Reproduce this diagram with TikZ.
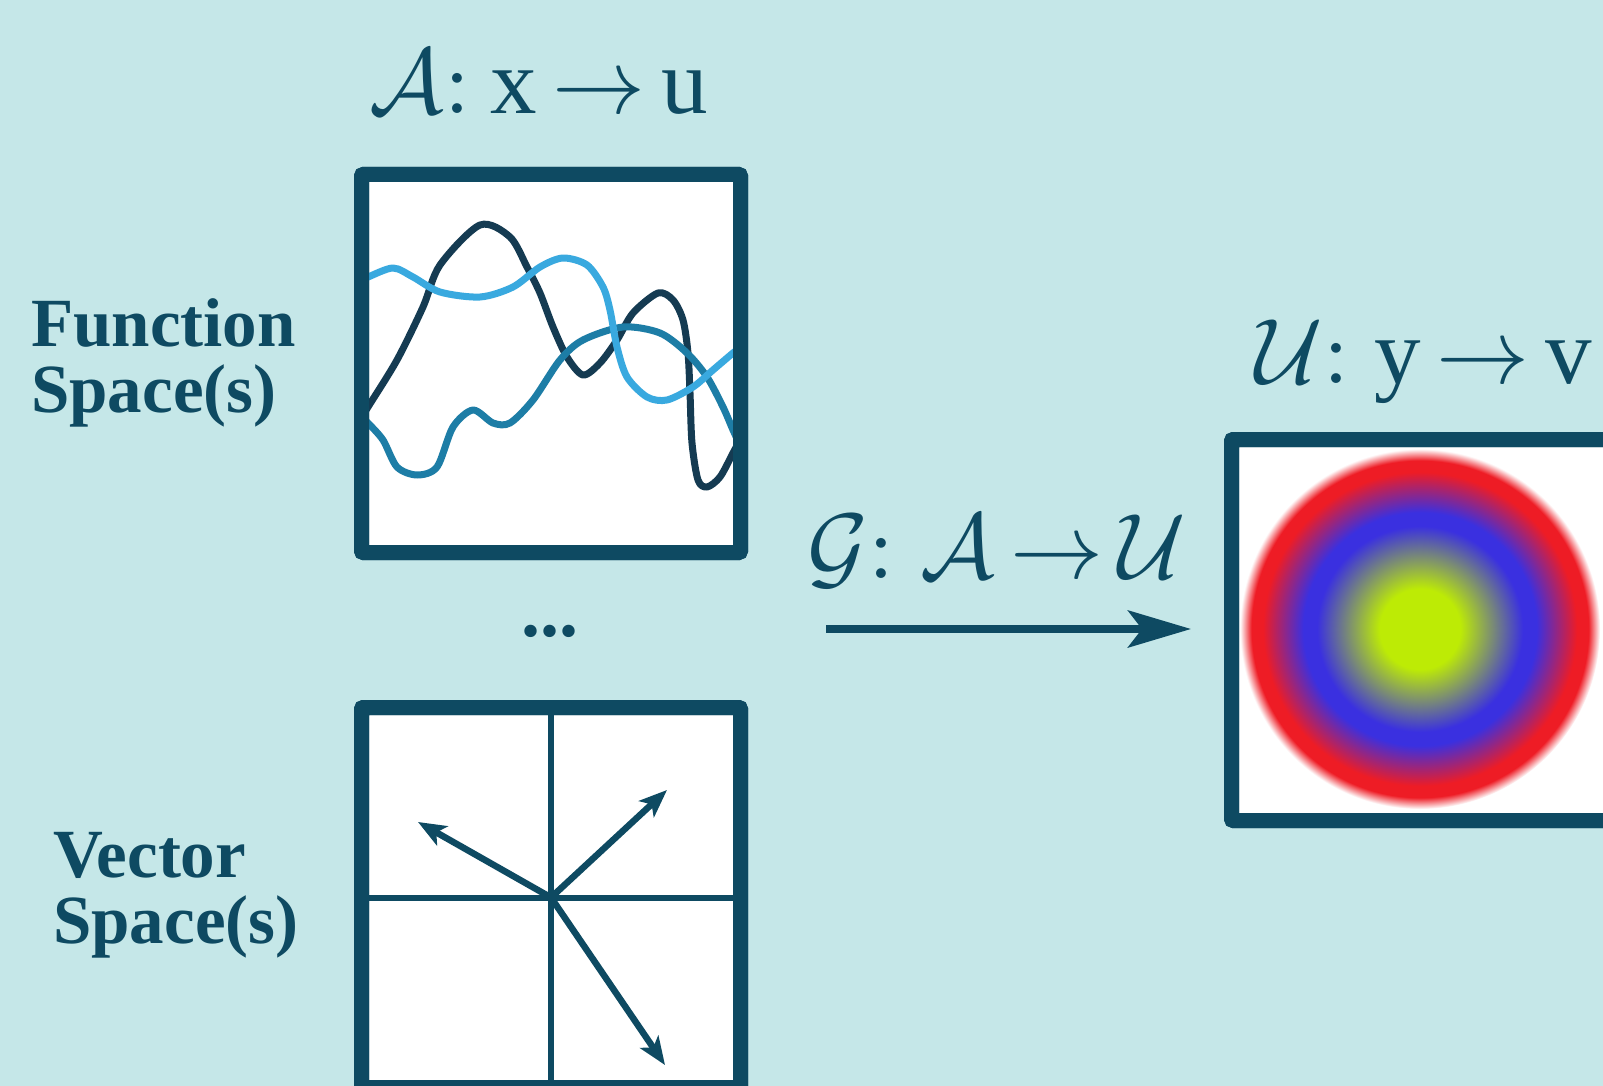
\documentclass[tikz,border=0pt]{standalone}
\usepackage{fontspec}
\setmainfont{Liberation Serif}
\usetikzlibrary{arrows.meta}
\definecolor{bgc}{HTML}{C5E7E8}
\definecolor{dk}{HTML}{0E4A62}
\definecolor{cdark}{HTML}{153B52}
\definecolor{clight}{HTML}{39A9DF}
\definecolor{cmed}{HTML}{1D7DA6}
\definecolor{yg}{HTML}{BDEB05}
\definecolor{vb}{HTML}{3A30E0}
\definecolor{rd}{HTML}{EE1C25}
\pgfdeclareradialshading{target}{\pgfpoint{0bp}{0bp}}{color(0bp)=(yg); color(5.6bp)=(yg); color(14.3bp)=(vb); color(16.2bp)=(vb); color(21.8bp)=(rd); color(23.4bp)=(rd); color(25bp)=(white); color(50bp)=(white)}
\begin{document}
\begin{tikzpicture}[x=1pt,y=-1pt,
  panel/.style={draw=dk, line width=15pt, fill=white, rounded corners=2pt, inner sep=0pt, outer sep=0pt},
  lbl/.style={text=dk, inner sep=0pt, scale=9.3},
  side/.style={text=dk, inner sep=0pt, align=left, font=\bfseries\fontsize{69}{66}\selectfont},
  wave/.style={line width=7pt, line cap=round, line join=round},
  vec/.style={draw=dk, line width=6.5pt, -{Stealth[length=28pt,width=22pt,inset=7pt]}},
  gridline/.style={draw=dk, line width=6pt},
  bigarrow/.style={draw=dk, line width=7.5pt, -{Stealth[length=63pt,width=37pt,inset=14pt]}}
]
\useasboundingbox (0,0) rectangle (1603,1086);
\clip (0,0) rectangle (1603,1086);
\fill[bgc] (0,0) rectangle (1603,1086);

% panels
\node[panel, minimum width=379pt, minimum height=378pt] (fbox) at (551,363.5) {};
\node[panel, minimum width=379pt, minimum height=380pt] (vbox) at (551,897.5) {};
\node[panel, minimum width=379pt, minimum height=381pt] (ubox) at (1421,630) {};

% function curves
\begin{scope}
\clip (fbox.south west) rectangle (fbox.north east);
\draw[wave, cdark] plot[smooth] coordinates {(360,420) (368,407) (397,360) (423,307) (440,265) (480,225) (510,237) (527,267) (540,293) (553,327) (567,357) (583,375) (600,363) (617,340) (633,313) (658,293) (673,300) (683,320) (688,353) (690,393) (692,443) (698,480) (707,487) (720,477) (733,453) (740,440)};
\draw[wave, cmed] plot[smooth] coordinates {(360,415) (368,423) (383,440) (397,467) (417,475) (437,467) (453,427) (473,410) (493,423) (510,423) (533,400) (560,360) (583,340) (623,327) (660,333) (687,353) (707,377) (723,407) (733,430) (740,445)};
\draw[wave, clight] plot[smooth] coordinates {(360,280) (368,277) (393,268) (413,277) (440,292) (480,297) (513,287) (540,267) (563,258) (587,265) (603,287) (610,310) (617,347) (627,377) (647,397) (667,400) (693,387) (713,370) (733,353) (740,348)};
\end{scope}
\draw[draw=dk, line width=15pt, rounded corners=2pt] (fbox.south west) rectangle (fbox.north east);

% vector space
\draw[gridline] (vbox.north) -- (vbox.south);
\draw[gridline] (vbox.west) -- (vbox.east);
\draw[draw=dk, line width=15pt, rounded corners=2pt] (vbox.south west) rectangle (vbox.north east);
\coordinate (o) at (vbox.center);
\coordinate (v1) at (418,822);
\coordinate (v2) at (667,790);
\coordinate (v3) at (665,1065);
\draw[vec] (o) -- (v1);
\draw[vec] (o) -- (v2);
\draw[vec] (o) -- (v3);

% output field
\coordinate (fc) at (1420,629);
\shade[shading=target] (fc) circle[radius=180];
\draw[draw=dk, line width=15pt, rounded corners=2pt] (ubox.south west) rectangle (ubox.north east);

% operator arrow
\coordinate (gs) at (826,629);
\coordinate (ge) at (1191,629);
\draw[bigarrow] (gs) -- (ge);

% labels
\node[lbl, anchor=base west] (tA) at (368,114) {$\mathcal{A}\colon\mkern1mu\mathrm{x}\mkern-2mu\to\mkern-2mu\mathrm{u}$};
\node[lbl, anchor=base west] (tG) at (806,578) {$\mathcal{G}\colon\mkern2mu\mathcal{A}\mkern-2mu\to\mkern-2mu\mathcal{U}$};
\node[lbl, anchor=base west] (tU) at (1254,383) {$\mathcal{U}\colon\mkern2mu\mathrm{y}\mkern-2mu\to\mkern-2mu\mathrm{v}$};
\node[side, anchor=north west] (fs) at (31,298) {Function\\Space(s)};
\node[side, anchor=north west] (vs) at (53,832) {Vector\\Space(s)};
\node[text=dk, inner sep=0pt, anchor=base, font=\bfseries\fontsize{76}{80}\selectfont] (dots) at (550,636) {...};
\end{tikzpicture}
\end{document}
